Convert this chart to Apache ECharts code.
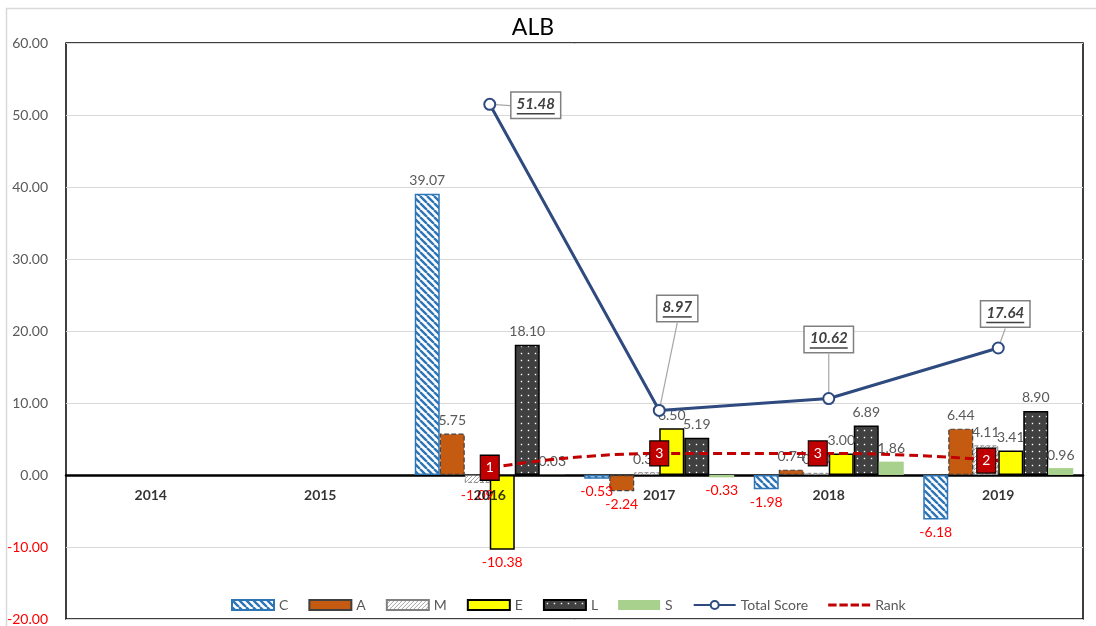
<!DOCTYPE html>
<html><head><meta charset="utf-8">
<script src="https://cdn.jsdelivr.net/npm/echarts@6/dist/echarts.min.js"></script>
<style>html,body{margin:0;padding:0;background:#fff}#c{width:1096px;height:626px}</style>
</head><body><div id="c"></div>
<script>
// ---- data ----
const years = ['2014', '2015', '2016', '2017', '2018', '2019'];
const C = [null, null, 39.07, -0.53, -1.98, -6.18];
const A = [null, null, 5.75, -2.24, 0.74, 6.44];
const M = [null, null, -1.09, 0.38, 0.30, 4.11];
const E = [null, null, -10.38, 6.50, 3.00, 3.41];
const L = [null, null, 18.10, 5.19, 6.89, 8.90];
const S = [null, null, 0.03, -0.33, 1.86, 0.96];
const totalScore = [null, null, 51.48, 8.97, 10.62, 17.64];
const rank = [null, null, 1, 3, 3, 2];
const yMin = -20, yMax = 60, yStep = 10;

// ---- styling helpers ----
const FONT = 'Lato, "Open Sans", sans-serif';
function hatch(bg, fg, size, lw, dir) {
  const cv = document.createElement('canvas'); cv.width = size; cv.height = size;
  const g = cv.getContext('2d'); g.fillStyle = bg; g.fillRect(0, 0, size, size);
  g.strokeStyle = fg; g.lineWidth = lw; g.beginPath();
  for (let k = -1; k <= 1; k++) {
    const x0 = k * size;
    if (dir === 'down') { g.moveTo(x0, 0); g.lineTo(x0 + size, size); }
    else { g.moveTo(x0, size); g.lineTo(x0 + size, 0); }
  }
  g.stroke();
  return { image: cv, repeat: 'repeat' };
}
function dots(bg, fg, size) {
  const cv = document.createElement('canvas'); cv.width = size; cv.height = size;
  const g = cv.getContext('2d'); g.fillStyle = bg; g.fillRect(0, 0, size, size);
  g.fillStyle = fg; g.fillRect(size / 2 - 0.7, size / 2 - 0.7, 1.4, 1.4);
  return { image: cv, repeat: 'repeat' };
}
function barData(arr) {
  return arr.map(v => v == null ? null : {
    value: v,
    label: { position: v < 0 ? 'bottom' : 'top', color: v < 0 ? '#FF0000' : '#595959' }
  });
}
function bar(name, arr, itemStyle) {
  return {
    name, type: 'bar', data: barData(arr), barWidth: 25, barGap: '0%',
    itemStyle,
    label: { show: true, fontSize: 14, fontFamily: FONT, distance: 6,
      formatter: p => (+p.value).toFixed(2) },
    z: 2
  };
}
// label / marker placement tweaks (pixels), indexed like the data
const scoreLabelShift = [[0, 0], [0, 0], [46, 25], [18, -78], [0, -35], [7, -10]];
const rankMarkShift = [0, 0, 0, 0, -11, -12];

const chart = echarts.init(document.getElementById('c'));
chart.setOption({
  animation: false,
  backgroundColor: '#fff',
  title: { text: 'ALB', left: 528, top: 11, textAlign: 'center',
    textStyle: { fontFamily: FONT, fontSize: 23, fontWeight: 'normal', color: '#000' } },
  graphic: [{ type: 'rect', silent: true, z: -10,
    shape: { x: 6.5, y: 8.5, width: 1200, height: 800 },
    style: { fill: 'none', stroke: '#D9D9D9', lineWidth: 1.5 } }],
  grid: { left: 66, right: 13, top: 43, bottom: 7, show: true, borderColor: '#000', borderWidth: 1.5,
    containLabel: false, outerBoundsMode: 'none' },
  legend: {
    left: 226, top: 593, itemWidth: 42, itemHeight: 10, itemGap: 20,
    textStyle: { color: '#595959', fontSize: 14, fontFamily: FONT },
    data: [
      { name: 'C', icon: 'rect' }, { name: 'A', icon: 'rect' }, { name: 'M', icon: 'rect' },
      { name: 'E', icon: 'rect' }, { name: 'L', icon: 'rect' }, { name: 'S', icon: 'rect' },
      'Total Score',
      { name: 'Rank', icon: 'path://M0,0h9v3h-9z M12,0h9v3h-9z M24,0h9v3h-9z M36,0h9v3h-9z',
        itemStyle: { borderWidth: 0 } }]
  },
  xAxis: {
    type: 'category', data: years,
    axisLine: { onZero: true, lineStyle: { color: '#000', width: 2.5 } },
    axisTick: { show: false },
    axisLabel: { show: false },
    splitLine: { show: false }
  },
  yAxis: {
    type: 'value', min: yMin, max: yMax, interval: yStep,
    axisLine: { show: false }, axisTick: { show: false },
    axisLabel: { margin: 18, fontSize: 14, fontFamily: FONT,
      formatter: v => v.toFixed(2),
      color: v => (+v < 0 ? '#FF0000' : '#595959') },
    splitLine: { lineStyle: { color: '#D9D9D9', width: 1 } }
  },
  series: [
    bar('C', C, { color: hatch('#FFFFFF', '#2E75B6', 7, 2.4, 'down'), borderColor: '#2E75B6', borderWidth: 1.5 }),
    bar('A', A, { color: '#C55A11', borderColor: '#404040', borderWidth: 1.2, borderType: 'dashed' }),
    bar('M', M, { color: hatch('#FFFFFF', '#A6A6A6', 4, 1, 'up'), borderColor: '#808080', borderWidth: 1, borderType: 'dashed' }),
    bar('E', E, { color: '#FFFF00', borderColor: '#000', borderWidth: 1.5 }),
    bar('L', L, { color: dots('#404040', '#FFFFFF', 7), borderColor: '#000', borderWidth: 1.5 }),
    bar('S', S, { color: '#A9D18E' }),
    {
      name: 'Total Score', type: 'line', data: totalScore, z: 4,
      symbol: 'emptyCircle', symbolSize: 11,
      lineStyle: { color: '#2E4A7F', width: 3 },
      itemStyle: { color: '#2E4A7F', borderColor: '#2E4A7F', borderWidth: 2 },
      label: {
        show: true, position: 'top', distance: 5,
        formatter: p => {
          const s = (+p.value).toFixed(2);
          return '{t|' + s + '}\n{u' + s.length + '|}';
        },
        backgroundColor: '#fff', borderColor: '#808080', borderWidth: 1.5, padding: [3, 5, 3, 5],
        rich: {
          t: { fontFamily: FONT, fontSize: 15, fontWeight: 'bold', fontStyle: 'italic', color: '#404040', lineHeight: 17 },
          u4: { width: 29, height: 1.5, lineHeight: 2, backgroundColor: '#404040' },
          u5: { width: 38, height: 1.5, lineHeight: 2, backgroundColor: '#404040' }
        }
      },
      labelLine: { show: true, lineStyle: { color: '#A6A6A6', width: 1.2 } },
      labelLayout: p => {
        const s = scoreLabelShift[p.dataIndex] || [0, 0];
        return { dx: s[0], dy: s[1] };
      }
    },
    {
      name: 'Rank', type: 'line', z: 5, smooth: 0.5,
      data: rank.map((v, i) => v == null ? null : { value: v, symbolOffset: [rankMarkShift[i], 0] }),
      symbol: 'rect', symbolSize: [19, 25],
      lineStyle: { color: '#C00000', width: 3, type: [9, 5] },
      itemStyle: { color: '#C00000', borderColor: '#000', borderWidth: 1.2 },
      label: { show: true, position: 'inside', color: '#fff', fontSize: 14, fontFamily: FONT, formatter: '{c}' }
    },
    {
      name: 'yearLabels', type: 'scatter', z: 6, silent: true,
      data: years.map(y => [y, 0]),
      symbolSize: 0,
      label: { show: true, position: 'bottom', distance: 13, formatter: p => p.value[0],
        fontWeight: 'bold', color: '#000', fontSize: 14, fontFamily: FONT }
    }
  ]
});
</script></body></html>
